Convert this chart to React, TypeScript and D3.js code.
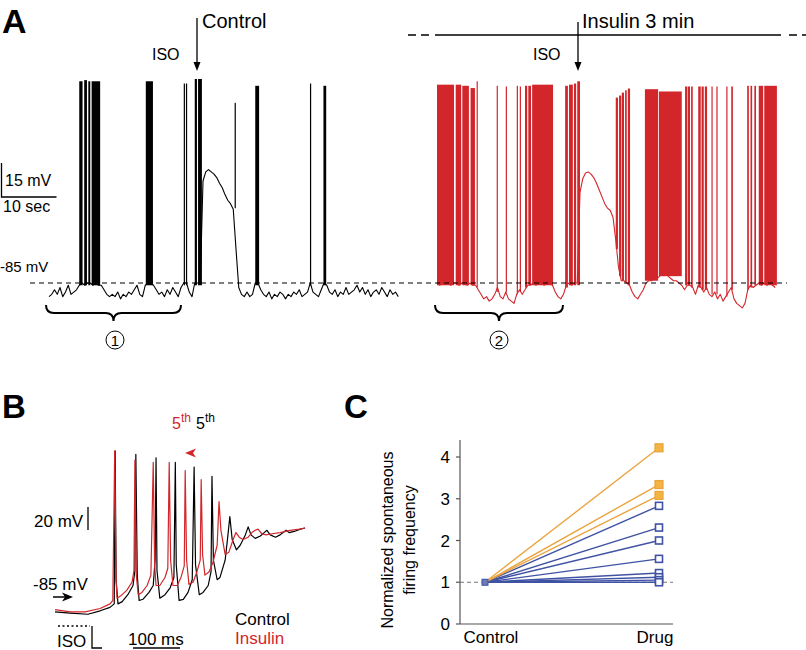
import React from 'react';
import * as d3 from 'd3';

// ---- Panel A: membrane potential (mV), one sample every 0.5 s ----
const SAMPLE_S = 0.5;
const controlTrace = [
  -91, -90, -88, -90, -87, -91, -89, -86, -90, -89, -88,
  -86, -85, -86, -85, -85, -86, -85, -86, -86,
  -88, -90, -91,
  -90, -91, -89, -92, -90, -91, -89, -90, -88, -86, -90, -91, -86,
  -85, -85, -86,
  -88, -90, -89, -91, -88, -90, -87, -89, -91, -87,
  -85, -85,
  -89, -91,
  -85, -85, -85,
  -40, -36, -35, -36, -37, -38.5, -41, -43, -46, -48.5, -50, -52.5, -70, -87,
  -90, -91, -89, -91, -90,
  -85, -85,
  -88, -90, -91, -89, -92, -90, -91, -89, -90, -92, -90, -91, -89, -90, -88, -91, -90, -89,
  -85,
  -89, -90, -91, -88,
  -85, -86,
  -89, -90, -88, -91, -89, -90, -87, -90, -89, -88, -86, -89, -87, -90, -88, -91, -89, -88,
  -90, -87, -89, -91, -88, -90, -89, -91,
];
const insulinTrace = [
  -85, -86, -85, -84, -85, -86, -85, -85, -86, -85, -85, -86, -85, -86,
  -86, -88, -90, -92, -91, -93, -92, -90, -87, -91, -92, -89, -92, -93, -94, -90, -88, -90, -88, -86,
  -86, -85, -86, -85, -85, -86, -85, -85, -86,
  -89, -91, -92, -90,
  -86, -85, -86, -85, -85,
  -45, -39, -36.5, -36, -37, -38.5, -41, -44, -47, -50, -52, -53, -56, -66, -78, -84,
  -84, -85, -86,
  -89, -91, -92, -90, -88,
  -85, -84, -84, -83, -83, -82, -81, -80, -82, -83, -84, -84, -85, -86,
  -88, -86, -86, -87, -90,
  -86, -87, -89, -87, -90, -91, -89, -92, -90, -93, -91, -89, -87,
  -92, -94, -95, -96, -94,
  -88, -86, -87, -86, -85, -86, -85, -86, -85, -86, -87,
];
// spike bursts: [start s, end s, peak mV, foot mV]
const controlBursts = [
  [5.5, 6.1, 4, -86], [6.4, 6.9, 4.5, -86], [7.15, 7.5, 4, -86], [7.75, 9.3, 4, -86],
  [17.6, 18.9, 4, -86],
  [24.5, 24.7, 3, -86], [24.9, 25.1, 3, -86],
  [26.5, 26.9, 5, -86], [27.1, 27.8, 5, -86],
  [33.75, 33.9, -5.5, -52],
  [37.5, 38.2, 2, -86],
  [47.45, 47.6, 3, -86],
  [49.9, 50.4, 2, -86],
];
const insulinBursts = [
  [0, 3.1, 2.5, -86], [3.4, 4.4, 2.5, -86], [4.6, 5.8, 2, -86], [6.1, 6.9, 1, -86],
  [7.2, 7.35, 4, -87],
  [10.85, 11.0, 2, -89], [12.5, 12.65, 1.7, -89], [14.5, 14.65, 2, -90], [15.05, 15.2, 1.7, -89],
  [16.0, 16.4, 2, -87], [16.6, 17.1, 2, -86], [17.3, 21.1, 2.5, -86],
  [23.3, 23.8, 2, -87], [24.0, 24.7, 2.5, -86], [24.9, 25.3, 3, -86], [25.5, 26.0, 4, -86],
  [32.5, 32.9, -3.2, -70], [33.1, 33.5, -2.3, -82], [33.6, 34.0, -1, -84], [34.2, 34.5, 0, -85], [34.7, 35.1, 0.8, -86],
  [37.8, 40.2, 0.5, -84], [40.35, 44.5, -0.5, -82],
  [45.1, 45.5, 1.7, -86], [45.6, 46.0, 1.7, -86], [46.2, 46.5, 1.7, -87],
  [47.5, 47.95, 1.7, -87], [48.1, 48.5, 1.7, -88], [48.7, 49.1, 1.7, -88], [49.9, 50.1, 1.7, -90],
  [50.8, 51.0, 1.7, -90], [52.6, 52.8, 1.7, -91], [53.5, 53.8, 1.7, -88],
  [56.4, 56.7, 2, -88], [57.0, 57.3, 2, -87], [57.7, 58.0, 2, -86], [58.5, 59.3, 2, -86], [59.5, 61.8, 2, -86],
];

// ---- Panel B: burst onset after ISO, [ms, mV] ----
const controlAP = [
  [0, -98], [32, -99], [70, -100], [96, -97], [117, -94], [126, -91], [128, 42], [130, -70], [134, -91],
  [143, -89], [155, -83], [166, -75], [170, -62], [172, 39], [175, -66], [179, -88], [187, -87],
  [200, -81], [209, -75], [213, -53], [215, 36], [217, -62], [223, -86], [234, -83], [245, -77],
  [253, -68], [256, 32], [258, -57], [264, -88], [273, -87], [283, -81], [292, -70], [296, 28],
  [299, -57], [307, -83], [315, -81], [326, -75], [332, -63], [334, 20], [337, -53], [345, -70],
  [351, -68], [362, -53], [368, -31], [372, -15], [377, -35], [386, -44], [394, -40], [405, -31],
  [411, -24], [417, -31], [426, -34], [437, -32], [445, -29], [451, -27], [458, -31], [469, -33],
  [479, -31], [488, -28], [492, -27], [498, -29], [509, -28], [522, -26], [532, -25],
];
const insulinAP = [
  [0, -96], [32, -98], [64, -98], [96, -95], [117, -91], [123, -88], [127, 42], [130, -70], [132, -86],
  [140, -84], [153, -79], [164, -72], [168, -62], [170, 34], [173, -66], [177, -83], [185, -81],
  [196, -75], [204, -66], [209, 32], [212, -57], [215, -75], [223, -75], [234, -68], [240, -60],
  [243, 32], [246, -53], [251, -75], [260, -75], [268, -68], [275, -58], [277, 25], [280, -53],
  [285, -74], [294, -72], [302, -63], [309, -53], [311, 17], [314, -48], [319, -66], [328, -63],
  [336, -55], [345, -40], [349, -2], [353, -27], [362, -48], [370, -46], [379, -35], [385, -29],
  [392, -33], [400, -35], [411, -33], [419, -29], [426, -27], [432, -26], [440, -30], [449, -31],
  [462, -30], [479, -29], [500, -27], [521, -26], [532, -25],
];

// ---- Panel C: normalized firing frequency ----
const groups = ['Control', 'Drug'];
const orangeCells = [4.22, 3.34, 3.08];
const blueCells = [2.83, 2.31, 2.0, 1.56, 1.22, 1.12, 1.05, 1.0];
const yTicks = [0, 1, 2, 3, 4];

const RED = '#d2262b';
const BLUE = '#3f52a3';
const ORANGE = '#eba43f';
const FONT = 'Liberation Sans, Arial, Helvetica, sans-serif';

function brace(x0: number, x1: number, y0: number) {
  const cx = (x0 + x1) / 2;
  const y1 = y0 + 8;
  const y2 = y0 + 16;
  const r = 8;
  return `M${x0},${y0} Q${x0},${y1} ${x0 + r},${y1} L${cx - r},${y1} Q${cx},${y1} ${cx},${y2} ` +
    `Q${cx},${y1} ${cx + r},${y1} L${x1 - r},${y1} Q${x1},${y1} ${x1},${y0}`;
}

const Trace = ({ values, bursts, x, y, color }: any) => {
  const line = d3.line<number>().x((_, i) => x(i * SAMPLE_S)).y((v) => y(v));
  return (
    <g>
      <path d={line(values) || ''} fill="none" stroke={color} strokeWidth={1.1} strokeLinejoin="round" />
      {bursts.map((b: number[], i: number) => {
        const x0 = x(b[0]);
        const w = Math.max(1.2, x(b[1]) - x0);
        return <rect key={i} x={x0} y={y(b[2])} width={w} height={y(b[3]) - y(b[2])} fill={color} />;
      })}
    </g>
  );
};

export default function App() {
  // panel A scales: 10 s = 55 px, 15 mV = 34 px
  const xCtl = d3.scaleLinear().domain([0, 10]).range([49, 104]);
  const xIns = d3.scaleLinear().domain([0, 10]).range([437, 492]);
  const yA = d3.scaleLinear().domain([-85, -70]).range([283, 249]);

  // panel B scales
  const xB = d3.scaleLinear().domain([0, 100]).range([55, 102]);
  const yB = d3.scaleLinear().domain([-85, -65]).range([597, 574]);
  const lineB = d3.line<number[]>().x((d) => xB(d[0])).y((d) => yB(d[1]));

  // panel C scales
  const xC = d3.scalePoint<string>().domain(groups).range([485, 659]);
  const yC = d3.scaleLinear().domain([0, 4]).range([624, 457]);

  const barH = yA(-85) - yA(-70);
  const barW = xCtl(10) - xCtl(0);
  const barB = yB(-85) - yB(-65);

  return (
    <svg width={806} height={650} style={{ position: 'absolute', left: 0, top: 0, background: '#fff' }}
      fontFamily={FONT}>
      {/* ---------- A ---------- */}
      <text x={2} y={33} fontSize={34} fontWeight="bold">A</text>
      <text x={202} y={28} fontSize={20}>Control</text>
      <text x={152} y={60} fontSize={16}>ISO</text>
      <line x1={197} y1={18} x2={197} y2={64} stroke="#000" strokeWidth={1.3} />
      <path d="M193.5,62 L197,71 L200.5,62 Z" fill="#000" />

      <line x1={408} y1={35} x2={431} y2={35} stroke="#000" strokeWidth={1.3} strokeDasharray="8,5" />
      <line x1={435} y1={35} x2={781} y2={35} stroke="#000" strokeWidth={1.3} />
      <line x1={789} y1={35} x2={806} y2={35} stroke="#000" strokeWidth={1.3} strokeDasharray="8,5" />
      <text x={582} y={28} fontSize={20}>Insulin 3 min</text>
      <text x={533} y={60} fontSize={16}>ISO</text>
      <line x1={578} y1={22} x2={578} y2={64} stroke="#000" strokeWidth={1.3} />
      <path d="M574.5,62 L578,71 L581.5,62 Z" fill="#000" />

      {/* scale bar */}
      <path d={`M1.5,${197 - barH} L1.5,197 L${1.5 + barW},197`} fill="none" stroke="#000" strokeWidth={1.3} />
      <text x={5} y={186} fontSize={16}>15 mV</text>
      <text x={3} y={212} fontSize={16}>10 sec</text>
      <text x={0} y={272} fontSize={15}>-85 mV</text>

      <Trace values={controlTrace} bursts={controlBursts} x={xCtl} y={yA} color="#000" />
      <Trace values={insulinTrace} bursts={insulinBursts} x={xIns} y={yA} color={RED} />
      <line x1={30} y1={yA(-85)} x2={787} y2={yA(-85)} stroke="#000" strokeWidth={1} strokeDasharray="5,4" />

      <path d={brace(46, 181, 305)} fill="none" stroke="#000" strokeWidth={2} />
      <circle cx={115} cy={340} r={9} fill="none" stroke="#000" strokeWidth={1} />
      <text x={115} y={346} fontSize={15} textAnchor="middle">1</text>
      <path d={brace(435, 563, 305)} fill="none" stroke="#000" strokeWidth={2} />
      <circle cx={499} cy={340} r={9} fill="none" stroke="#000" strokeWidth={1} />
      <text x={499} y={346} fontSize={15} textAnchor="middle">2</text>

      {/* ---------- B ---------- */}
      <text x={2} y={418} fontSize={33} fontWeight="bold">B</text>
      <path d={lineB(controlAP) || ''} fill="none" stroke="#000" strokeWidth={1.2} strokeLinejoin="round" />
      <path d={lineB(insulinAP) || ''} fill="none" stroke={RED} strokeWidth={1.2} strokeLinejoin="round" />
      <text x={172} y={429} fontSize={16} fill={RED}>5<tspan dy={-7} fontSize={12}>th</tspan></text>
      <text x={196} y={429} fontSize={16} fill="#000">5<tspan dy={-7} fontSize={12}>th</tspan></text>
      <path d="M185,453 L196,448.5 L193,453 L196,457.5 Z" fill={RED} />
      <line x1={88} y1={530 - barB} x2={88} y2={530} stroke="#000" strokeWidth={1.3} />
      <text x={34} y={527} fontSize={17}>20 mV</text>
      <text x={33} y={590} fontSize={17}>-85 mV</text>
      <line x1={53} y1={597} x2={66} y2={597} stroke="#000" strokeWidth={1.5} />
      <path d="M73,597 L62,592.5 L65,597 L62,601.5 Z" fill="#000" />
      <line x1={58} y1={626} x2={90} y2={626} stroke="#000" strokeWidth={1.3} strokeDasharray="2,2.5" />
      <path d="M92,626 L92,648 L102,648" fill="none" stroke="#000" strokeWidth={1.3} />
      <text x={57} y={647} fontSize={17}>ISO</text>
      <line x1={133} y1={648} x2={133 + xB(100) - xB(0)} y2={648} stroke="#000" strokeWidth={1.3} />
      <text x={128} y={645} fontSize={17}>100 ms</text>
      <text x={235} y={625} fontSize={17} fill="#000">Control</text>
      <text x={235} y={644} fontSize={17} fill={RED}>Insulin</text>

      {/* ---------- C ---------- */}
      <text x={344} y={418} fontSize={33} fontWeight="bold">C</text>
      <g fontSize={16} textAnchor="middle">
        <text transform="translate(387,540) rotate(-90)" dominantBaseline="central">Normalized spontaneous</text>
        <text transform="translate(409,540) rotate(-90)" dominantBaseline="central">firing  frequency</text>
      </g>
      <line x1={460} y1={440} x2={460} y2={yC(0)} stroke="#555" strokeWidth={1.2} />
      <line x1={460} y1={yC(0)} x2={673} y2={yC(0)} stroke="#555" strokeWidth={1.2} />
      {yTicks.map((t) => (
        <g key={t}>
          <line x1={456} x2={460} y1={yC(t)} y2={yC(t)} stroke="#555" strokeWidth={1.2} />
          <text x={450} y={yC(t) + 6} fontSize={17} textAnchor="end">{t}</text>
        </g>
      ))}
      <text x={(xC('Control') as number) + 6} y={643} fontSize={17} textAnchor="middle">Control</text>
      <text x={(xC('Drug') as number) - 4} y={643} fontSize={17} textAnchor="middle">Drug</text>
      <line x1={460} x2={673} y1={yC(1)} y2={yC(1)} stroke="#777" strokeWidth={1.2} strokeDasharray="4,3" />
      {blueCells.map((v, i) => (
        <line key={'b' + i} x1={xC('Control')} y1={yC(1)} x2={xC('Drug')} y2={yC(v)} stroke={BLUE} strokeWidth={1.4} />
      ))}
      {orangeCells.map((v, i) => (
        <line key={'o' + i} x1={xC('Control')} y1={yC(1)} x2={xC('Drug')} y2={yC(v)} stroke={ORANGE} strokeWidth={1.4} />
      ))}
      {blueCells.map((v, i) => (
        <rect key={'bm' + i} x={(xC('Drug') as number) - 3.5} y={yC(v) - 3.5} width={7} height={7}
          fill="#fff" stroke={BLUE} strokeWidth={1.6} />
      ))}
      {orangeCells.map((v, i) => (
        <rect key={'om' + i} x={(xC('Drug') as number) - 4} y={yC(v) - 4} width={8} height={8}
          fill="#f3b443" stroke="#eaa23a" strokeWidth={1.2} />
      ))}
      <rect x={(xC('Control') as number) - 3} y={yC(1) - 3} width={6} height={6} fill="#6a79b8" stroke={BLUE} strokeWidth={1} />
    </svg>
  );
}
